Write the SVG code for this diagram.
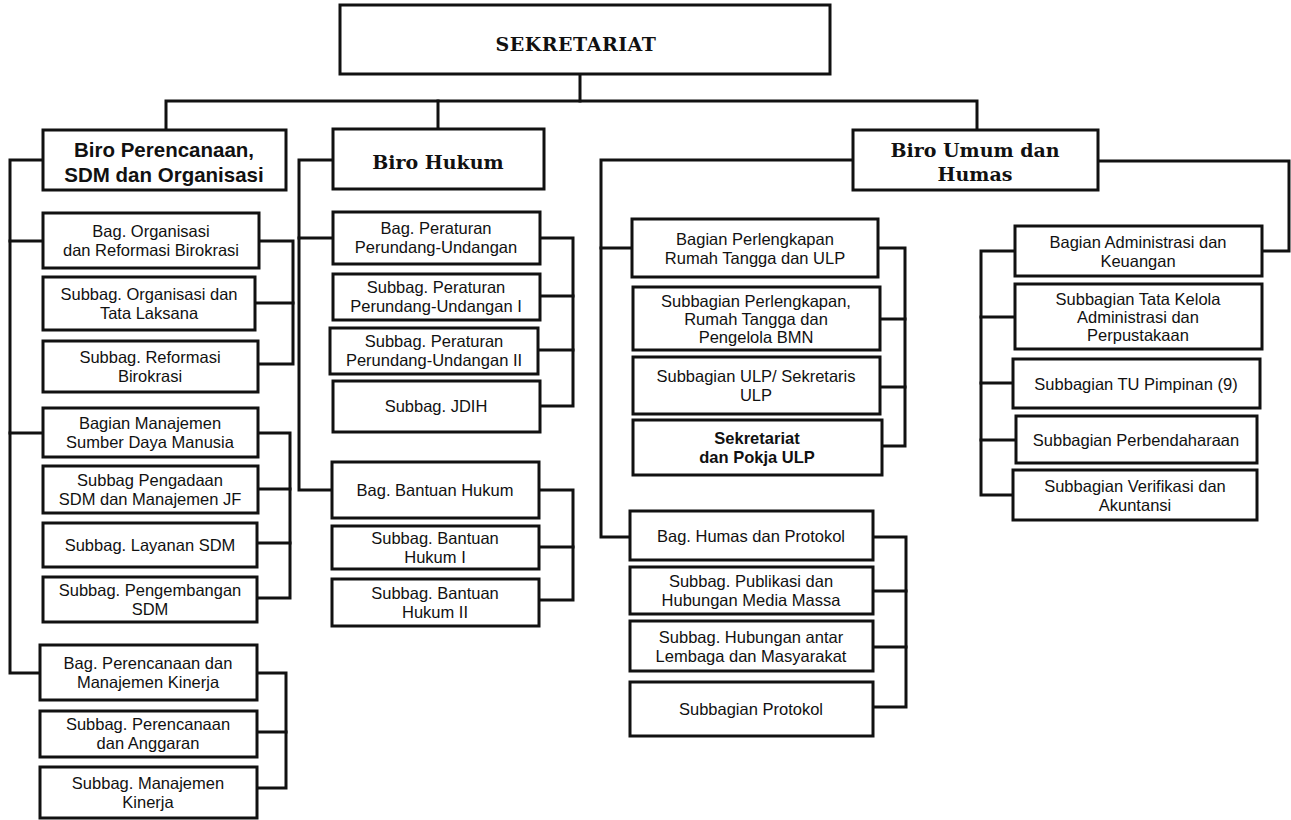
<svg xmlns="http://www.w3.org/2000/svg" width="1291" height="820" viewBox="0 0 1291 820">
<style>
.box{fill:#fff;stroke:#111;stroke-width:3}
.wire{fill:none;stroke:#111;stroke-width:3;stroke-linejoin:miter;stroke-linecap:square}
.t{font-family:"Liberation Sans",Arial,sans-serif;font-size:16.5px;text-anchor:middle;fill:#111}
.b{font-weight:bold}
.hs{font-family:"Liberation Sans",Arial,sans-serif;font-size:20.5px;font-weight:bold;text-anchor:middle;fill:#111}
.hr{font-family:"DejaVu Serif","Liberation Serif",serif;font-size:19px;font-weight:bold;text-anchor:middle;fill:#111}
</style>
<rect width="1291" height="820" fill="#fff"/>
<g id="connectors">
<path class="wire" d="M580,74 V101"/>
<path class="wire" d="M166,130 V101 H977 V130"/>
<path class="wire" d="M438,101 V129"/>
<path class="wire" d="M43,160 H10 V673 H40"/>
<path class="wire" d="M10,241 H43"/>
<path class="wire" d="M10,433 H43"/>
<path class="wire" d="M259,241 H293 V364 H258"/>
<path class="wire" d="M255,303 H293"/>
<path class="wire" d="M258,433 H290 V598 H257"/>
<path class="wire" d="M258,489 H290"/>
<path class="wire" d="M257,543 H290"/>
<path class="wire" d="M257,673 H286 V788 H257"/>
<path class="wire" d="M257,732 H286"/>
<path class="wire" d="M333,160 H299 V490 H332"/>
<path class="wire" d="M299,238 H333"/>
<path class="wire" d="M540,238 H573 V406 H540"/>
<path class="wire" d="M540,296 H573"/>
<path class="wire" d="M538,350 H573"/>
<path class="wire" d="M539,490 H573 V600 H539"/>
<path class="wire" d="M539,547 H573"/>
<path class="wire" d="M853,160 H601 V537 H630"/>
<path class="wire" d="M601,248 H632"/>
<path class="wire" d="M878,248 H905 V446 H882"/>
<path class="wire" d="M880,319 H905"/>
<path class="wire" d="M880,387 H905"/>
<path class="wire" d="M873,537 H906 V707 H873"/>
<path class="wire" d="M873,591 H906"/>
<path class="wire" d="M873,647 H906"/>
<path class="wire" d="M1098,161 H1289 V251 H1262"/>
<path class="wire" d="M1015,251 H981 V495 H1013"/>
<path class="wire" d="M981,317 H1015"/>
<path class="wire" d="M981,383 H1013"/>
<path class="wire" d="M981,440 H1016"/>
</g>
<g id="sekretariat"><rect class="box" x="340" y="5" width="490" height="69"/><text class="hr" x="576" y="51" font-size="23" letter-spacing="0.5">SEKRETARIAT</text></g>
<g id="biro-perencanaan"><rect class="box" x="43" y="130" width="243" height="60"/><text class="hs" x="164" y="157">Biro Perencanaan,</text><text class="hs" x="164" y="182">SDM dan Organisasi</text></g>
<g id="bag-organisasi"><rect class="box" x="43" y="213" width="216" height="55"/><text class="t" x="151" y="237">Bag. Organisasi</text><text class="t" x="151" y="256">dan Reformasi Birokrasi</text></g>
<g id="subbag-organisasi"><rect class="box" x="43" y="277" width="212" height="53"/><text class="t" x="149" y="300">Subbag. Organisasi dan</text><text class="t" x="149" y="319">Tata Laksana</text></g>
<g id="subbag-reformasi"><rect class="box" x="43" y="341" width="215" height="51"/><text class="t" x="150" y="363">Subbag. Reformasi</text><text class="t" x="150" y="382">Birokrasi</text></g>
<g id="bag-sdm"><rect class="box" x="43" y="408" width="215" height="49"/><text class="t" x="150" y="429">Bagian Manajemen</text><text class="t" x="150" y="448">Sumber Daya Manusia</text></g>
<g id="subbag-pengadaan"><rect class="box" x="43" y="466" width="215" height="47"/><text class="t" x="150" y="486">Subbag Pengadaan</text><text class="t" x="150" y="505">SDM dan Manajemen JF</text></g>
<g id="subbag-layanan"><rect class="box" x="43" y="523" width="214" height="44"/><text class="t" x="150" y="551">Subbag. Layanan SDM</text></g>
<g id="subbag-pengembangan"><rect class="box" x="43" y="577" width="214" height="45"/><text class="t" x="150" y="596">Subbag. Pengembangan</text><text class="t" x="150" y="615">SDM</text></g>
<g id="bag-perencanaan"><rect class="box" x="40" y="645" width="217" height="55"/><text class="t" x="148" y="669">Bag. Perencanaan dan</text><text class="t" x="148" y="688">Manajemen Kinerja</text></g>
<g id="subbag-perencanaan"><rect class="box" x="40" y="711" width="217" height="46"/><text class="t" x="148" y="730">Subbag. Perencanaan</text><text class="t" x="148" y="749">dan Anggaran</text></g>
<g id="subbag-kinerja"><rect class="box" x="40" y="767" width="217" height="51"/><text class="t" x="148" y="789">Subbag. Manajemen</text><text class="t" x="148" y="808">Kinerja</text></g>
<g id="biro-hukum"><rect class="box" x="333" y="129" width="211" height="60"/><text class="hr" x="438" y="169">Biro Hukum</text></g>
<g id="bag-peraturan"><rect class="box" x="333" y="212" width="207" height="52"/><text class="t" x="436" y="234">Bag. Peraturan</text><text class="t" x="436" y="253">Perundang-Undangan</text></g>
<g id="subbag-peraturan-1"><rect class="box" x="333" y="274" width="207" height="46"/><text class="t" x="436" y="293">Subbag. Peraturan</text><text class="t" x="436" y="312">Perundang-Undangan I</text></g>
<g id="subbag-peraturan-2"><rect class="box" x="330" y="328" width="208" height="46"/><text class="t" x="434" y="347">Subbag. Peraturan</text><text class="t" x="434" y="366">Perundang-Undangan II</text></g>
<g id="subbag-jdih"><rect class="box" x="333" y="381" width="207" height="51"/><text class="t" x="436" y="412">Subbag. JDIH</text></g>
<g id="bag-bantuan"><rect class="box" x="332" y="462" width="207" height="56"/><text class="t" x="435" y="496">Bag. Bantuan Hukum</text></g>
<g id="subbag-bantuan-1"><rect class="box" x="332" y="526" width="207" height="43"/><text class="t" x="435" y="544">Subbag. Bantuan</text><text class="t" x="435" y="563">Hukum I</text></g>
<g id="subbag-bantuan-2"><rect class="box" x="332" y="579" width="207" height="47"/><text class="t" x="435" y="599">Subbag. Bantuan</text><text class="t" x="435" y="618">Hukum II</text></g>
<g id="biro-umum"><rect class="box" x="853" y="130" width="245" height="60"/><text class="hr" x="975" y="157">Biro Umum dan</text><text class="hr" x="975" y="181">Humas</text></g>
<g id="bag-perlengkapan"><rect class="box" x="632" y="219" width="246" height="58"/><text class="t" x="755" y="244.5">Bagian Perlengkapan</text><text class="t" x="755" y="263.5">Rumah Tangga dan ULP</text></g>
<g id="subbag-perlengkapan"><rect class="box" x="633" y="287" width="247" height="63"/><text class="t" x="756" y="306.5">Subbagian Perlengkapan,</text><text class="t" x="756" y="324.5">Rumah Tangga dan</text><text class="t" x="756" y="342.5">Pengelola BMN</text></g>
<g id="subbag-ulp"><rect class="box" x="633" y="357" width="247" height="57"/><text class="t" x="756" y="382">Subbagian ULP/ Sekretaris</text><text class="t" x="756" y="401">ULP</text></g>
<g id="sekretariat-pokja"><rect class="box" x="633" y="420" width="249" height="55"/><text class="t b" x="757" y="444">Sekretariat</text><text class="t b" x="757" y="463">dan Pokja ULP</text></g>
<g id="bag-humas"><rect class="box" x="630" y="511" width="243" height="49"/><text class="t" x="751" y="541.5">Bag. Humas dan Protokol</text></g>
<g id="subbag-publikasi"><rect class="box" x="630" y="567" width="243" height="47"/><text class="t" x="751" y="587">Subbag. Publikasi dan</text><text class="t" x="751" y="606">Hubungan Media Massa</text></g>
<g id="subbag-hubungan"><rect class="box" x="630" y="621" width="243" height="50"/><text class="t" x="751" y="642.5">Subbag. Hubungan antar</text><text class="t" x="751" y="661.5">Lembaga dan Masyarakat</text></g>
<g id="subbag-protokol"><rect class="box" x="630" y="682" width="243" height="54"/><text class="t" x="751" y="715">Subbagian Protokol</text></g>
<g id="bag-administrasi"><rect class="box" x="1015" y="226" width="247" height="50"/><text class="t" x="1138" y="247.5">Bagian Administrasi dan</text><text class="t" x="1138" y="266.5">Keuangan</text></g>
<g id="subbag-tata-kelola"><rect class="box" x="1015" y="284" width="247" height="65"/><text class="t" x="1138" y="304.5">Subbagian Tata Kelola</text><text class="t" x="1138" y="322.5">Administrasi dan</text><text class="t" x="1138" y="340.5">Perpustakaan</text></g>
<g id="subbag-tu"><rect class="box" x="1013" y="359" width="247" height="49"/><text class="t" x="1136" y="389.5">Subbagian TU Pimpinan (9)</text></g>
<g id="subbag-perbendaharaan"><rect class="box" x="1016" y="416" width="241" height="47"/><text class="t" x="1136" y="445.5">Subbagian Perbendaharaan</text></g>
<g id="subbag-verifikasi"><rect class="box" x="1013" y="470" width="244" height="50"/><text class="t" x="1135" y="491.5">Subbagian Verifikasi dan</text><text class="t" x="1135" y="510.5">Akuntansi</text></g>
</svg>
